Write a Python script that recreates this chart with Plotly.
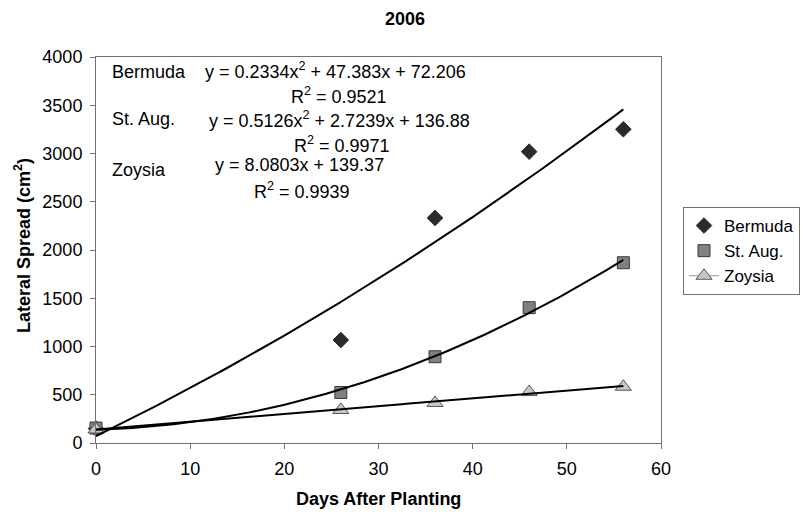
import numpy as np
import plotly.graph_objects as go

# Data
days = [0, 26, 36, 46, 56]
bermuda = [150, 1067, 2332, 3019, 3251]
st_aug = [155, 523, 894, 1402, 1868]
zoysia = [140, 342, 415, 528, 583]

# Trendline coefficients as printed on the chart (highest power first)
bermuda_coef = [0.2334, 47.383, 72.206]
st_aug_coef = [0.5126, 2.7239, 136.88]
zoysia_coef = [8.0803, 139.37]

series_names = ["Bermuda", "St. Aug.", "Zoysia"]
x_ticks = [0, 10, 20, 30, 40, 50, 60]
y_ticks = [0, 500, 1000, 1500, 2000, 2500, 3000, 3500, 4000]

FONT = "Liberation Sans, Arial, sans-serif"

fig = go.Figure()

fig.add_trace(go.Scatter(
    x=days, y=bermuda, mode="markers", name=series_names[0],
    marker=dict(symbol="diamond", size=12, color="#2b2b2b",
                line=dict(color="#2b2b2b", width=1)),
    cliponaxis=False))
fig.add_trace(go.Scatter(
    x=days, y=st_aug, mode="markers", name=series_names[1],
    marker=dict(symbol="square", size=12, color="#808080",
                line=dict(color="#3a3a3a", width=1)),
    cliponaxis=False))
fig.add_trace(go.Scatter(
    x=days, y=zoysia, mode="markers", name=series_names[2], showlegend=False,
    marker=dict(symbol="triangle-up", size=14, color="#c8c8c8",
                line=dict(color="#555555", width=1)),
    cliponaxis=False))
# legend entry for Zoysia (line + marker as in the original legend)
fig.add_trace(go.Scatter(
    x=[None], y=[None], mode="lines+markers", name=series_names[2],
    line=dict(color="#999999", width=1),
    marker=dict(symbol="triangle-up", size=14, color="#c8c8c8",
                line=dict(color="#555555", width=1))))

xs = np.linspace(0, 56, 300)
for coef in (bermuda_coef, st_aug_coef, zoysia_coef):
    fig.add_trace(go.Scatter(
        x=xs, y=np.polyval(coef, xs), mode="lines", showlegend=False,
        line=dict(color="black", width=2), hoverinfo="skip"))

L, R, T, B = 96, 142, 57, 69
W, H = 803, 512
pw, ph = W - L - R, H - T - B


def px(xp):
    return (xp - L) / pw


def py(yp):
    return (H - B - yp) / ph


ann_font = dict(family=FONT, size=18, color="black")
annotations = [
    dict(text="Bermuda", x=px(110), y=py(72), xanchor="left"),
    dict(text="St. Aug.", x=px(110), y=py(119), xanchor="left"),
    dict(text="Zoysia", x=px(110), y=py(170), xanchor="left"),
    dict(text="y = 0.2334x<sup>2</sup> + 47.383x + 72.206", x=px(203), y=py(70), xanchor="left"),
    dict(text="R<sup>2</sup> = 0.9521", x=px(289), y=py(95), xanchor="left"),
    dict(text="y = 0.5126x<sup>2</sup> + 2.7239x + 136.88", x=px(207), y=py(119), xanchor="left"),
    dict(text="R<sup>2</sup> = 0.9971", x=px(292), y=py(144), xanchor="left"),
    dict(text="y = 8.0803x + 139.37", x=px(213), y=py(165), xanchor="left"),
    dict(text="R<sup>2</sup> = 0.9939", x=px(252), y=py(190), xanchor="left"),
    dict(text="<b>Lateral Spread (cm<sup>2</sup>)</b>", x=px(22), y=py(246),
         xanchor="center", textangle=-90),
    dict(text="<b>Days After Planting</b>", x=px(378), y=py(499), xanchor="center"),
    dict(text="<b>2006</b>", x=px(405), y=py(19), xanchor="center"),
]
for a in annotations:
    a.update(xref="paper", yref="paper", yanchor="middle", showarrow=False, font=ann_font)

axis_common = dict(showgrid=False, zeroline=False, showline=True, linecolor="#707070",
                   linewidth=1, mirror=True, ticks="outside", ticklen=5,
                   tickcolor="#707070", ticklabelstandoff=4,
                   tickfont=dict(family=FONT, size=18, color="black"))

fig.update_layout(
    width=W, height=H,
    margin=dict(l=L, r=R, t=T, b=B),
    paper_bgcolor="white", plot_bgcolor="white",
    showlegend=True,
    legend=dict(xref="container", yref="container", x=683 / W, y=1 - 207 / H,
                xanchor="left", yanchor="top",
                bordercolor="#707070", borderwidth=1,
                font=dict(family=FONT, size=17, color="black"),
                itemwidth=30, tracegroupgap=0),
    xaxis=dict(range=[0, 60], tickvals=x_ticks, **axis_common),
    yaxis=dict(range=[0, 4000], tickvals=y_ticks, **axis_common),
    annotations=annotations,
)

fig.write_html("out.html", config={"displayModeBar": False},
               post_script="document.body.style.margin='0';document.body.style.overflow='hidden';")
